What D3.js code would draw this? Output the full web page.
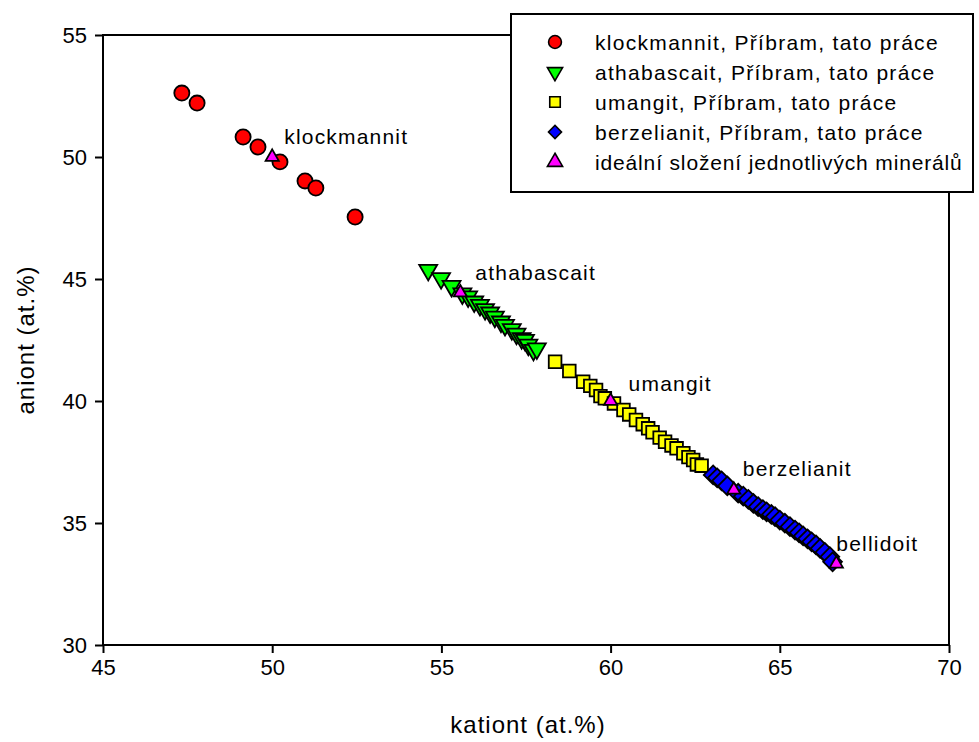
<!DOCTYPE html>
<html>
<head>
<meta charset="utf-8">
<script src="https://cdn.jsdelivr.net/npm/d3@7"></script>
<style>
  html, body { margin: 0; padding: 0; background: #fff; }
  svg text { font-family: Arial, "Liberation Sans", sans-serif; fill: #000; }
</style>
</head>
<body>
<svg id="chart" width="979" height="742"></svg>
<script>
// ---- data ----
const xTicks = [45, 50, 55, 60, 65, 70];
const yTicks = [30, 35, 40, 45, 50, 55];

const klockmannit = [
  [47.33, 52.62], [47.78, 52.21], [49.14, 50.82], [49.58, 50.41],
  [50.23, 49.80], [50.97, 49.02], [51.29, 48.73], [52.45, 47.54]
];
const athabascait = [
  [54.61, 45.37], [54.99, 45.03], [55.30, 44.71], [55.62, 44.40], [55.79, 44.28],
  [55.97, 44.07], [56.14, 43.93], [56.29, 43.76], [56.44, 43.62], [56.58, 43.45],
  [56.76, 43.25], [56.88, 43.11], [57.08, 42.94], [57.22, 42.75], [57.37, 42.57],
  [57.47, 42.50], [57.57, 42.30], [57.72, 42.09], [57.82, 42.15]
];
const umangit = [
  [58.36, 41.61], [58.78, 41.23], [59.19, 40.79], [59.40, 40.62], [59.57, 40.45],
  [59.70, 40.20], [59.83, 40.11], [60.10, 39.90], [60.38, 39.63], [60.55, 39.45],
  [60.75, 39.22], [60.95, 39.05], [61.11, 38.88], [61.24, 38.72], [61.45, 38.50],
  [61.61, 38.33], [61.80, 38.18], [61.95, 38.06], [62.15, 37.86], [62.30, 37.70],
  [62.44, 37.58], [62.55, 37.40], [62.69, 37.35]
];
const berzelianit = [
  [63.03, 36.97], [63.15, 36.85], [63.28, 36.73], [63.45, 36.52], [63.77, 36.22],
  [63.92, 36.10], [64.07, 35.97], [64.22, 35.80], [64.36, 35.67], [64.50, 35.55],
  [64.61, 35.46], [64.75, 35.35], [64.86, 35.26], [65.00, 35.12], [65.15, 34.99],
  [65.30, 34.85], [65.45, 34.71], [65.57, 34.60], [65.69, 34.47], [65.82, 34.35],
  [65.94, 34.23], [66.07, 34.10], [66.19, 33.96], [66.33, 33.80], [66.48, 33.62],
  [66.56, 33.41]
];
const idealNames = ["klockmannit", "athabascait", "umangit", "berzelianit", "bellidoit"];
const idealX = [50.00, 55.56, 60.00, 63.64, 66.67];
const idealY = [50.00, 44.44, 40.00, 36.36, 33.33];

const legendLabels = [
  "klockmannit, Příbram, tato práce",
  "athabascait, Příbram, tato práce",
  "umangit, Příbram, tato práce",
  "berzelianit, Příbram, tato práce",
  "ideální složení jednotlivých minerálů"
];

// ---- layout ----
const svg = d3.select("#chart");
const L = 103, R = 949, T = 35, B = 645;
const x = d3.scaleLinear().domain([45, 70]).range([L, R]);
const y = d3.scaleLinear().domain([30, 55]).range([B, T]);

// frame
svg.append("rect").attr("x", L).attr("y", T).attr("width", R - L).attr("height", B - T)
  .attr("fill", "none").attr("stroke", "#000").attr("stroke-width", 2);

// axes
const xAxis = d3.axisBottom(x).tickValues(xTicks).tickSize(8).tickPadding(6).tickFormat(d3.format("d"));
const yAxis = d3.axisLeft(y).tickValues(yTicks).tickSize(8).tickPadding(8).tickFormat(d3.format("d"));

const gx = svg.append("g").attr("transform", `translate(0,${B})`).call(xAxis);
const gy = svg.append("g").attr("transform", `translate(${L},0)`).call(yAxis);
[gx, gy].forEach(g => {
  g.attr("font-size", null).attr("font-family", null);
  g.select(".domain").remove();
  g.selectAll(".tick line").attr("stroke", "#000").attr("stroke-width", 2);
  g.selectAll(".tick text").style("font-size", "22px").attr("fill", "#000")
    .style("font-family", "Arial, 'Liberation Sans', sans-serif");
});

// axis titles
svg.append("text").attr("x", (L + R) / 2 + 2).attr("y", 733).attr("text-anchor", "middle")
  .style("font-size", "24px").style("letter-spacing", "1px").text("kationt (at.%)");
svg.append("text").attr("transform", `translate(34,${(T + B) / 2}) rotate(-90)`)
  .attr("text-anchor", "middle").style("font-size", "24px").style("letter-spacing", "1px").text("aniont (at.%)");

// markers
const sym = {
  circle: d3.symbol().type(d3.symbolCircle).size(180),
  tri: d3.symbol().type(d3.symbolTriangle).size(140),
  square: d3.symbol().type(d3.symbolSquare).size(160),
  diamond: d3.symbol().type(d3.symbolSquare).size(175),
  ideal: d3.symbol().type(d3.symbolTriangle).size(75)
};

function plot(data, path, fill, rot) {
  svg.append("g").selectAll("path").data(data).join("path")
    .attr("d", path)
    .attr("transform", d => `translate(${x(d[0])},${y(d[1])})` + (rot ? ` rotate(${rot})` : ""))
    .attr("fill", fill).attr("stroke", "#000").attr("stroke-width", 1.8);
}
plot(klockmannit, sym.circle(), "#ff0000");
plot(athabascait, sym.tri(), "#00ff00", 180);
plot(umangit, sym.square(), "#ffff00");
plot(berzelianit, sym.diamond(), "#0000ff", 45);
const ideal = idealX.map((v, i) => [v, idealY[i]]);
plot(ideal, sym.ideal(), "#ff00ff");

// mineral labels
const labelDx = [12, 15, 18, 9, 0];
const labelDy = [-13, -13, -10, -14, -13];
svg.append("g").selectAll("text").data(idealNames).join("text")
  .attr("x", (d, i) => x(idealX[i]) + labelDx[i])
  .attr("y", (d, i) => y(idealY[i]) + labelDy[i])
  .style("font-size", "21px").style("letter-spacing", "1.2px").text(d => d);

// legend
const lg = svg.append("g");
lg.append("rect").attr("x", 511).attr("y", 14).attr("width", 462).attr("height", 178)
  .attr("fill", "#fff").attr("stroke", "#000").attr("stroke-width", 2);
const legSyms = [
  [d3.symbol().type(d3.symbolCircle).size(130)(), "#ff0000", 0],
  [d3.symbol().type(d3.symbolTriangle).size(100)(), "#00ff00", 180],
  [d3.symbol().type(d3.symbolSquare).size(110)(), "#ffff00", 0],
  [d3.symbol().type(d3.symbolSquare).size(85)(), "#0000ff", 45],
  [d3.symbol().type(d3.symbolTriangle).size(100)(), "#ff00ff", 0]
];
const legSpacing = [1.3, 1.3, 1.3, 1.3, 0.85];
legendLabels.forEach((t, i) => {
  const cy = 42 + i * 30;
  lg.append("path").attr("d", legSyms[i][0])
    .attr("transform", `translate(555,${cy}) rotate(${legSyms[i][2]})`)
    .attr("fill", legSyms[i][1]).attr("stroke", "#000").attr("stroke-width", 1.6);
  lg.append("text").attr("x", 595).attr("y", cy + 8)
    .style("font-size", "21px").style("letter-spacing", legSpacing[i] + "px").text(t);
});
</script>
</body>
</html>
